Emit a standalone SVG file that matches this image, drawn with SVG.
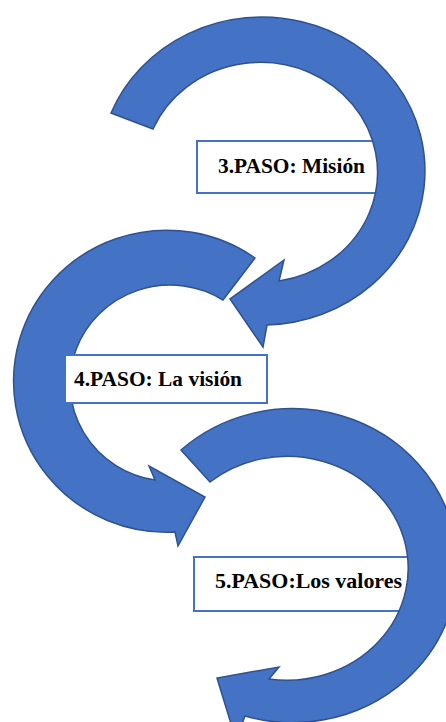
<svg xmlns="http://www.w3.org/2000/svg" width="446" height="722" viewBox="0 0 446 722">
<style>
.arrow{fill:#4472C4;stroke:#2F528F;stroke-width:1.5;stroke-linejoin:miter}
.box{fill:#FFFFFF;stroke:#4472C4;stroke-width:2}
.lbl{font-family:"Liberation Serif","DejaVu Serif",serif;font-weight:bold;font-size:21px;fill:#000000}
</style>
<rect width="446" height="722" fill="#FFFFFF"/>
<g id="node-paso3">
<rect class="box" x="197" y="141" width="190" height="52"/>
<text class="lbl" x="218" y="173" textLength="147" lengthAdjust="spacingAndGlyphs">3.PASO: Misión</text>
</g>
<g id="node-paso5">
<rect class="box" x="194" y="557" width="215" height="54"/>
<text class="lbl" x="215" y="588" textLength="187" lengthAdjust="spacingAndGlyphs">5.PASO:Los valores</text>
</g>
<g id="connectors">
<path id="arrow1" class="arrow" d="M111,113 A163 154 0 1 1 267,325 L263,347 L230,299 L284,260 L279,281 A117 110 0 1 0 153,129 Z"/>
<path id="arrow2" class="arrow" d="M255,258 A153 151 0 1 0 175,532 L178,546 L205,497 L149,466 L155,480 A100 98 0 1 1 223,300 Z"/>
<path id="arrow3" class="arrow" d="M181,450 A165 157 0 1 1 245,716 L236,740 L217,678 L279,667 L269,679 A121 112 0 1 0 210,482 Z"/>
</g>
<g id="node-paso4">
<rect class="box" x="65" y="355" width="202" height="48"/>
<text class="lbl" x="74" y="386" textLength="168" lengthAdjust="spacingAndGlyphs">4.PASO: La visión</text>
</g>
</svg>
